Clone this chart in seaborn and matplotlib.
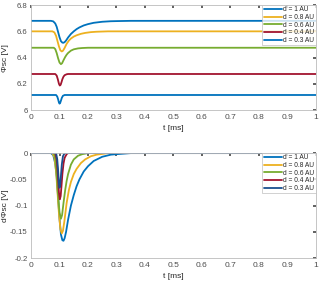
import numpy as np
import pandas as pd
import matplotlib
matplotlib.use("Agg")
import matplotlib.pyplot as plt
import seaborn as sns

# Estilo general
sns.set_theme(style="white")
plt.rcParams['font.family'] = ['Liberation Sans', 'DejaVu Sans']
plt.rcParams['axes.unicode_minus'] = False

labels = ['d = 1 AU', 'd = 0.8 AU', 'd = 0.6 AU', 'd = 0.4 AU', 'd = 0.3 AU']
baselines = [6.68, 6.60, 6.475, 6.275, 6.115]

# Caida de potencial para cada distancia
t_1 = [0, 0.07, 0.078, 0.085, 0.09, 0.095, 0.1, 0.105, 0.11, 0.114, 0.118, 0.123, 0.13, 0.14, 0.15, 0.16,
       0.17, 0.185, 0.2, 0.22, 0.25, 0.28, 0.3, 0.35, 1]
dphi_1 = [0, 0, -0.004, -0.02, -0.045, -0.085, -0.125, -0.155, -0.166, -0.167, -0.162, -0.15, -0.127, -0.1,
          -0.08, -0.063, -0.05, -0.035, -0.025, -0.015, -0.007, -0.003, -0.002, 0, 0]

t_08 = [0, 0.075, 0.082, 0.088, 0.093, 0.098, 0.103, 0.108, 0.112, 0.117, 0.125, 0.133, 0.14, 0.15, 0.16,
        0.175, 0.19, 0.21, 0.23, 0.27, 1]
dphi_08 = [0, 0, -0.008, -0.035, -0.075, -0.115, -0.145, -0.153, -0.148, -0.13, -0.095, -0.07, -0.055,
           -0.04, -0.03, -0.019, -0.012, -0.006, -0.003, 0, 0]

t_06 = [0, 0.08, 0.085, 0.09, 0.095, 0.1, 0.105, 0.109, 0.114, 0.12, 0.125, 0.13, 0.14, 0.15, 0.165, 0.18, 0.2, 1]
dphi_06 = [0, 0, -0.01, -0.04, -0.08, -0.113, -0.125, -0.118, -0.095, -0.07, -0.053, -0.04, -0.022,
           -0.012, -0.005, -0.002, 0, 0]

t_04 = [0, 0.085, 0.09, 0.094, 0.098, 0.101, 0.104, 0.107, 0.11, 0.114, 0.118, 0.125, 0.13, 1]
dphi_04 = [0, 0, -0.012, -0.04, -0.075, -0.088, -0.082, -0.062, -0.04, -0.02, -0.009, -0.002, 0, 0]

t_03 = [0, 0.088, 0.092, 0.095, 0.098, 0.1, 0.102, 0.105, 0.108, 0.112, 0.118, 1]
dphi_03 = [0, 0, -0.012, -0.032, -0.058, -0.066, -0.062, -0.043, -0.022, -0.006, 0, 0]

tiempos = [t_1, t_08, t_06, t_04, t_03]
caidas = [dphi_1, dphi_08, dphi_06, dphi_04, dphi_03]

colores_sup = ['#0072BD', '#EDB120', '#77AC30', '#A2142F', '#0072BD']
colores_inf = ['#0072BD', '#EDB120', '#77AC30', '#A2142F', '#1a4f8f']

fig = plt.figure(figsize=(3.2, 2.83), dpi=100)
ax1 = fig.add_axes([0.097, 0.611, 0.89, 0.371])
ax2 = fig.add_axes([0.097, 0.088, 0.89, 0.371])

for i in range(5):
    df = pd.DataFrame({'t': tiempos[i], 'phi': np.array(caidas[i]) + baselines[i], 'dphi': caidas[i]})
    sns.lineplot(data=df, x='t', y='phi', ax=ax1, color=colores_sup[i], lw=1.3, label=labels[i], sort=False)
    sns.lineplot(data=df, x='t', y='dphi', ax=ax2, color=colores_inf[i], lw=1.3, label=labels[i], sort=False)

xt = [0, 0.1, 0.2, 0.3, 0.4, 0.5, 0.6, 0.7, 0.8, 0.9, 1]
xtl = ['0', '0.1', '0.2', '0.3', '0.4', '0.5', '0.6', '0.7', '0.8', '0.9', '1']

for ax in (ax1, ax2):
    ax.set_xlim(0, 1)
    ax.set_xticks(xt)
    ax.set_xticklabels(xtl)
    ax.set_xlabel('t [ms]', fontsize=6, color='#262626', labelpad=3)
    ax.tick_params(direction='in', length=2, labelsize=6, colors='#4d4d4d', top=True, right=True, pad=3)
    ax.tick_params(axis='y', labelsize=5.6, pad=2.5)
    for s in ax.spines.values():
        s.set_color('#bcbcbc')
        s.set_linewidth(0.6)
    leg = ax.legend(loc='upper right', fontsize=4.8, handlelength=2.8, handletextpad=0.15,
                    borderpad=0.2, labelspacing=0.1, borderaxespad=0.0, frameon=True, fancybox=False)
    leg.get_frame().set_edgecolor('#bcbcbc')
    leg.get_frame().set_linewidth(0.6)

ax1.set_ylim(6, 6.8)
ax1.set_yticks([6, 6.2, 6.4, 6.6, 6.8])
ax1.set_yticklabels(['6', '6.2', '6.4', '6.6', '6.8'])
ax1.set_ylabel('Φsc [V]', fontsize=6, color='#262626')
ax1.yaxis.set_label_coords(-0.078, 0.5)

ax2.set_ylim(-0.2, 0)
ax2.set_yticks([-0.2, -0.15, -0.1, -0.05, 0])
ax2.set_yticklabels(['-0.2', '-0.15', '-0.1', '-0.05', '0'])
ax2.set_ylabel('dΦsc [V]', fontsize=6, color='#262626')
ax2.yaxis.set_label_coords(-0.078, 0.5)

plt.savefig('out.png', dpi=100)
